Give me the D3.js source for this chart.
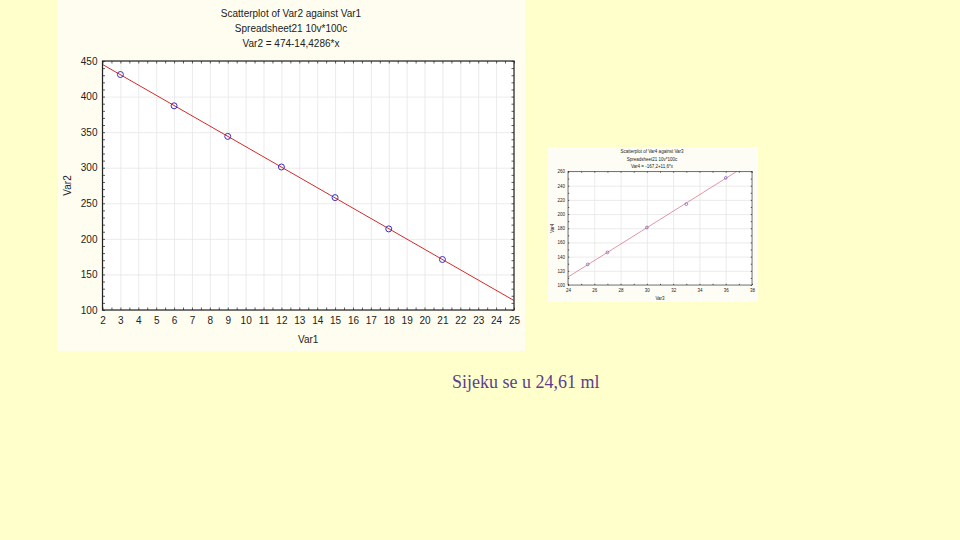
<!DOCTYPE html>
<html lang="en">
  <head>
    <meta charset="utf-8" />
    <script src="https://d3js.org/d3.v7.min.js"></script>
    <style>
      body {
        margin: 0;
        background: #ffffcc;
      }
      svg text {
        font-family: "Liberation Sans", Arial, sans-serif;
        fill: #222;
      }
    </style>
    <title>Scatterplot</title>
  </head>
  <body>
    <svg id="page" width="960" height="540"></svg>
    <script>
      // ---- data, big chart (Var2 against Var1) ----
      var var1 = [3, 6, 9, 12, 15, 18, 21];
      var var2 = [431, 387, 344, 301, 258, 214, 171];
      var fit1 = { a: 474, b: -14.4286 };
      var titles1 = [
        "Scatterplot of Var2 against Var1",
        "Spreadsheet21 10v*100c",
        "Var2 = 474-14,4286*x",
      ];
      var xTicks1 = d3.range(2, 26);
      var yTicks1 = [100, 150, 200, 250, 300, 350, 400, 450];

      // ---- data, small chart (Var4 against Var3) ----
      var var3 = [25.5, 27, 30, 33, 36];
      var var4 = [129, 146, 181, 214, 251];
      var fit2 = { a: -167.2, b: 11.6 };
      var titles2 = [
        "Scatterplot of Var4 against Var3",
        "Spreadsheet21 10v*100c",
        "Var4 = -167,2+11,6*x",
      ];
      var xTicks2 = [24, 26, 28, 30, 32, 34, 36, 38];
      var yTicks2 = [100, 120, 140, 160, 180, 200, 220, 240, 260];

      var note = "Sijeku se u 24,61 ml";

      var svg = d3.select("#page");

      function drawPanel(o) {
        var g = svg.append("g");
        // panel background
        g.append("rect")
          .attr("x", o.panel[0])
          .attr("y", o.panel[1])
          .attr("width", o.panel[2])
          .attr("height", o.panel[3])
          .attr("fill", o.panelFill);

        var x = d3.scaleLinear().domain(o.xDomain).range([o.left, o.right]);
        var y = d3.scaleLinear().domain(o.yDomain).range([o.bottom, o.top]);

        // plot area
        g.append("rect")
          .attr("x", o.left)
          .attr("y", o.top)
          .attr("width", o.right - o.left)
          .attr("height", o.bottom - o.top)
          .attr("fill", "#fff");

        // grid
        g.append("g")
          .attr("transform", "translate(0," + o.bottom + ")")
          .call(d3.axisBottom(x).tickValues(o.xGrid).tickSize(-(o.bottom - o.top)).tickFormat(""))
          .call(function (s) {
            s.select(".domain").remove();
            s.selectAll("line").attr("stroke", "#e6e6e6").attr("stroke-width", 0.8);
          });
        g.append("g")
          .attr("transform", "translate(" + o.left + ",0)")
          .call(d3.axisLeft(y).tickValues(o.yGrid).tickSize(-(o.right - o.left)).tickFormat(""))
          .call(function (s) {
            s.select(".domain").remove();
            s.selectAll("line").attr("stroke", "#e6e6e6").attr("stroke-width", 0.8);
          });

        // inward ticks on all four sides
        var tk = o.tick;
        [
          [d3.axisBottom(x), "translate(0," + o.bottom + ")", o.xMinor],
          [d3.axisTop(x), "translate(0," + o.top + ")", o.xMinor],
          [d3.axisLeft(y), "translate(" + o.left + ",0)", o.yMinor],
          [d3.axisRight(y), "translate(" + o.right + ",0)", o.yMinor],
        ].forEach(function (a) {
          g.append("g")
            .attr("transform", a[1])
            .call(a[0].tickValues(a[2]).tickSize(-tk).tickFormat(""))
            .call(function (s) {
              s.select(".domain").remove();
              s.selectAll("line").attr("stroke", "#333").attr("stroke-width", 0.8);
            });
        });

        // tick labels
        g.append("g")
          .attr("transform", "translate(0," + o.bottom + ")")
          .call(d3.axisBottom(x).tickValues(o.xTicks).tickSize(0).tickPadding(o.xPad))
          .call(function (s) {
            s.select(".domain").remove();
            s.selectAll("text")
              .style("font-size", o.font + "px")
              .style("font-family", "Liberation Sans, Arial, sans-serif")
              .attr("fill", "#222");
          });
        g.append("g")
          .attr("transform", "translate(" + o.left + ",0)")
          .call(d3.axisLeft(y).tickValues(o.yTicks).tickSize(0).tickPadding(o.yPad))
          .call(function (s) {
            s.select(".domain").remove();
            s.selectAll("text")
              .style("font-size", o.font + "px")
              .style("font-family", "Liberation Sans, Arial, sans-serif")
              .attr("fill", "#222");
          });

        // fitted line, clipped to the plot area
        var clipId = "clip" + o.id;
        g.append("clipPath")
          .attr("id", clipId)
          .append("rect")
          .attr("x", o.left)
          .attr("y", o.top)
          .attr("width", o.right - o.left)
          .attr("height", o.bottom - o.top);
        g.append("line")
          .attr("clip-path", "url(#" + clipId + ")")
          .attr("x1", x(o.xDomain[0]))
          .attr("y1", y(o.fit.a + o.fit.b * o.xDomain[0]))
          .attr("x2", x(o.xDomain[1]))
          .attr("y2", y(o.fit.a + o.fit.b * o.xDomain[1]))
          .attr("stroke", o.lineColor)
          .attr("stroke-width", o.lineWidth);

        // points
        g.append("g")
          .selectAll("circle")
          .data(o.xs)
          .enter()
          .append("circle")
          .attr("cx", function (d) {
            return x(d);
          })
          .attr("cy", function (d, i) {
            return y(o.ys[i]);
          })
          .attr("r", o.r)
          .attr("fill", "none")
          .attr("stroke", o.pointColor)
          .attr("stroke-width", o.pointWidth);

        // frame
        g.append("rect")
          .attr("x", o.left)
          .attr("y", o.top)
          .attr("width", o.right - o.left)
          .attr("height", o.bottom - o.top)
          .attr("fill", "none")
          .attr("stroke", "#222")
          .attr("stroke-width", o.frameWidth);

        // titles
        g.selectAll(".title")
          .data(o.titles)
          .enter()
          .append("text")
          .attr("x", o.titleX)
          .attr("y", function (d, i) {
            return o.titleY[i];
          })
          .attr("text-anchor", "middle")
          .attr("dominant-baseline", "middle")
          .style("font-size", o.font + "px")
          .text(function (d) {
            return d;
          });

        // axis titles
        g.append("text")
          .attr("x", (o.left + o.right) / 2)
          .attr("y", o.xTitleY)
          .attr("text-anchor", "middle")
          .attr("dominant-baseline", "middle")
          .style("font-size", o.font + "px")
          .text(o.xName);
        g.append("text")
          .attr("transform", "translate(" + o.yTitleX + "," + (o.top + o.bottom) / 2 + ") rotate(-90)")
          .attr("text-anchor", "middle")
          .attr("dominant-baseline", "middle")
          .style("font-size", o.font + "px")
          .text(o.yName);
      }

      drawPanel({
        id: 1,
        panel: [58, 0, 467, 351],
        panelFill: "#fffdf0",
        left: 102.5,
        right: 514,
        top: 61,
        bottom: 310,
        xDomain: [2, 25],
        yDomain: [100, 450],
        xTicks: xTicks1,
        yTicks: yTicks1,
        xGrid: xTicks1,
        yGrid: yTicks1,
        xMinor: d3.range(2, 25.01, 0.5),
        yMinor: d3.range(100, 450.1, 10),
        tick: 2.5,
        xPad: 7,
        yPad: 5,
        font: 10,
        fit: fit1,
        xs: var1,
        ys: var2,
        r: 3,
        pointColor: "#3a2fc0",
        pointWidth: 1,
        lineColor: "#d42a2a",
        lineWidth: 1,
        frameWidth: 1.2,
        titles: titles1,
        titleX: 291,
        titleY: [14.5, 29.5, 44],
        xName: "Var1",
        xTitleY: 340,
        yName: "Var2",
        yTitleX: 68,
      });

      drawPanel({
        id: 2,
        panel: [548, 147, 210, 155],
        panelFill: "#fdfdf6",
        left: 568,
        right: 752,
        top: 171.5,
        bottom: 285,
        xDomain: [24, 38],
        yDomain: [100, 260],
        xTicks: xTicks2,
        yTicks: yTicks2,
        xGrid: xTicks2,
        yGrid: yTicks2,
        xMinor: d3.range(24, 38.01, 1),
        yMinor: d3.range(100, 260.1, 10),
        tick: 1.2,
        xPad: 4,
        yPad: 3,
        font: 4.5,
        fit: fit2,
        xs: var3,
        ys: var4,
        r: 1.4,
        pointColor: "#6a3fb0",
        pointWidth: 0.6,
        lineColor: "#d0506a",
        lineWidth: 0.6,
        frameWidth: 0.6,
        titles: titles2,
        titleX: 652,
        titleY: [152, 159.5, 166.5],
        xName: "Var3",
        xTitleY: 298.5,
        yName: "Var4",
        yTitleX: 553,
      });

      svg.append("text")
        .attr("x", 452)
        .attr("y", 388)
        .style("font-family", "Liberation Serif, Times New Roman, serif")
        .style("font-size", "18px")
        .style("fill", "#5b3f8c")
        .text(note);
    </script>
  </body>
</html>
